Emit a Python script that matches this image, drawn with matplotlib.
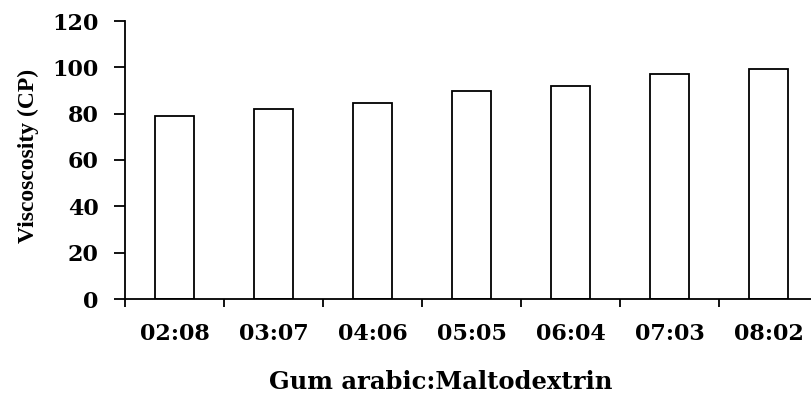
import matplotlib
matplotlib.use("Agg")
import matplotlib.pyplot as plt
import numpy as np

categories = ["02:08", "03:07", "04:06", "05:05", "06:04", "07:03", "08:02"]
viscosity = [79.0, 82.1, 84.7, 89.9, 91.8, 97.0, 99.3]
y_ticks = [0, 20, 40, 60, 80, 100, 120]

W, H = 811, 394
fig = plt.figure(figsize=(W / 100, H / 100), dpi=100)
left, bottom, top = 125, 299, 21
cat_w = 99
ax = fig.add_axes([left / W, (H - bottom) / H, 7 * cat_w / W, (bottom - top) / H])

x = np.arange(len(categories))
ax.bar(x, viscosity, width=0.4, color="white", edgecolor="black", linewidth=1.3)

ax.set_xlim(-0.5, len(categories) - 0.5)
ax.set_ylim(0, 120)
ax.set_yticks(y_ticks)
ax.set_xticks(x)
ax.set_xticks(np.arange(len(categories) + 1) - 0.5, minor=True)

tick_font = dict(family="DejaVu Serif", weight="bold", size=16)
ax.set_xticklabels(categories, fontdict=tick_font)
ax.set_yticklabels([str(v) for v in y_ticks], fontdict=tick_font)

ax.tick_params(axis="x", which="major", length=0, pad=17)
ax.tick_params(axis="x", which="minor", length=5.5, width=1.3, direction="out")
ax.tick_params(axis="y", which="major", length=8, width=1.3, direction="out", pad=11)

for s in ["top", "right"]:
    ax.spines[s].set_visible(False)
for s in ["left", "bottom"]:
    ax.spines[s].set_linewidth(1.3)

ax.set_xlabel("Gum arabic:Maltodextrin", family="DejaVu Serif", weight="bold", size=17.5)
ax.xaxis.label.set_va("baseline")
ax.xaxis.set_label_coords((441 - left) / (7 * cat_w), (bottom - 389) / (bottom - top))

ax.set_ylabel("Viscoscosity (CP)", family="Liberation Serif", weight="bold", size=17)
ax.yaxis.label.set_va("center")
ax.yaxis.set_label_coords((28 - left) / (7 * cat_w), (bottom - 156) / (bottom - top))

fig.savefig("out.png", dpi=100)
